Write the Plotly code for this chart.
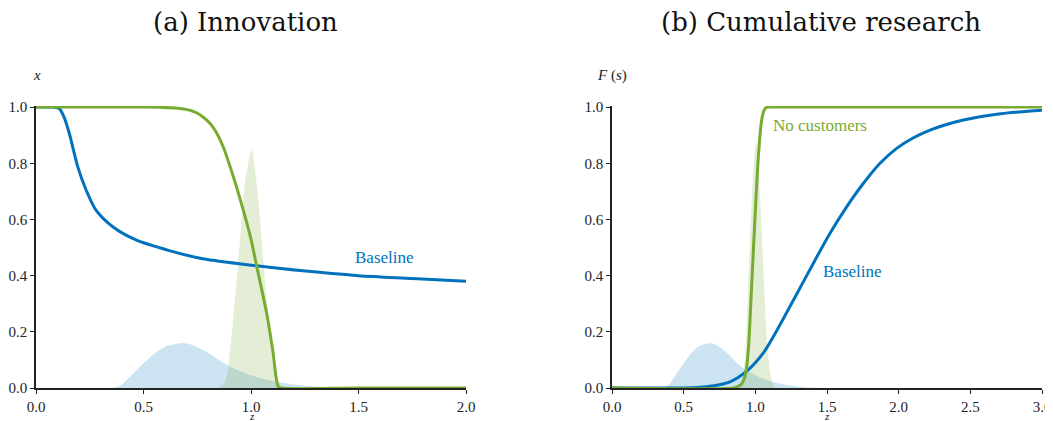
import plotly.graph_objects as go

BLUE = "#0072BD"
GREEN = "#77AC30"
BLUE_FILL = "rgba(0,114,189,0.2)"
GREEN_FILL = "rgba(119,172,48,0.2)"

# ---- Panel (a) Innovation ----
a_base_z = [0.0, 0.08, 0.108, 0.13, 0.155, 0.194, 0.233, 0.279, 0.357, 0.465, 0.62, 0.763, 0.837, 1.026, 1.228, 1.5, 1.75, 2.0]
a_base_x = [1.0, 1.0, 0.995, 0.965, 0.906, 0.788, 0.705, 0.633, 0.574, 0.527, 0.489, 0.462, 0.453, 0.435, 0.418, 0.400, 0.390, 0.380]

a_nocust_z = [0.0, 0.3, 0.5, 0.59, 0.65, 0.698, 0.74, 0.775, 0.81, 0.837, 0.87, 0.918, 0.964, 1.0, 1.026, 1.05, 1.073, 1.1, 1.127, 1.14, 1.5, 2.0]
a_nocust_x = [1.0, 1.0, 1.0, 0.999, 0.997, 0.992, 0.982, 0.966, 0.942, 0.912, 0.86, 0.752, 0.633, 0.53, 0.435, 0.35, 0.266, 0.14, 0.005, 0.0, 0.0, 0.0]

a_dens_base_z = [0.35, 0.4, 0.42, 0.45, 0.5, 0.55, 0.6, 0.67, 0.72, 0.794, 0.85, 0.918, 1.0, 1.1, 1.23, 1.35, 1.45]
a_dens_base_y = [0.0, 0.012, 0.028, 0.05, 0.088, 0.122, 0.146, 0.159, 0.155, 0.129, 0.1, 0.07, 0.045, 0.025, 0.01, 0.003, 0.0]

a_dens_nc_z = [0.845, 0.87, 0.887, 0.918, 0.949, 0.972, 1.003, 1.034, 1.057, 1.08, 1.104, 1.127, 1.15]
a_dens_nc_y = [0.0, 0.012, 0.04, 0.254, 0.527, 0.728, 0.847, 0.669, 0.455, 0.254, 0.076, 0.02, 0.0]

# ---- Panel (b) Cumulative research ----
b_base_z = [0.0, 0.5, 0.6, 0.7, 0.823, 0.94, 1.056, 1.172, 1.289, 1.405, 1.521, 1.637, 1.753, 1.87, 1.986, 2.1, 2.219, 2.335, 2.451, 2.567, 2.684, 2.84, 3.0]
b_base_F = [0.0, 0.0, 0.002, 0.007, 0.022, 0.06, 0.125, 0.225, 0.335, 0.444, 0.551, 0.645, 0.728, 0.80, 0.853, 0.89, 0.918, 0.938, 0.954, 0.966, 0.975, 0.983, 0.989]

b_nocust_z = [0.0, 0.85, 0.87, 0.9, 0.93, 0.951, 0.975, 0.998, 1.021, 1.044, 1.062, 1.079, 1.1, 2.0, 3.0]
b_nocust_F = [0.0, 0.0, 0.004, 0.012, 0.045, 0.135, 0.372, 0.61, 0.823, 0.954, 0.99, 0.999, 1.0, 1.0, 1.0]

b_dens_base_z = a_dens_base_z
b_dens_base_y = a_dens_base_y

b_dens_nc_z = [0.89, 0.91, 0.93, 0.955, 0.98, 1.005, 1.03, 1.055, 1.08, 1.105, 1.125, 1.14]
b_dens_nc_y = [0.0, 0.02, 0.12, 0.42, 0.72, 0.877, 0.72, 0.44, 0.18, 0.05, 0.01, 0.0]

xticks_a = [0.0, 0.5, 1.0, 1.5, 2.0]
xticks_b = [0.0, 0.5, 1.0, 1.5, 2.0, 2.5, 3.0]
yticks = [0.0, 0.2, 0.4, 0.6, 0.8, 1.0]

fig = go.Figure()

def fill(x, y, color, xa, ya):
    fig.add_trace(go.Scatter(x=x, y=y, mode="lines", fill="tozeroy", fillcolor=color,
                             line=dict(width=0, shape="spline", smoothing=0.7),
                             xaxis=xa, yaxis=ya, hoverinfo="skip", showlegend=False))

def line(x, y, color, xa, ya):
    fig.add_trace(go.Scatter(x=x, y=y, mode="lines",
                             line=dict(width=3, color=color, shape="spline", smoothing=0.8),
                             xaxis=xa, yaxis=ya, showlegend=False))

fill(a_dens_base_z, a_dens_base_y, BLUE_FILL, "x", "y")
fill(a_dens_nc_z, a_dens_nc_y, GREEN_FILL, "x", "y")
line(a_base_z, a_base_x, BLUE, "x", "y")
line(a_nocust_z, a_nocust_x, GREEN, "x", "y")

fill(b_dens_base_z, b_dens_base_y, BLUE_FILL, "x2", "y2")
fill(b_dens_nc_z, b_dens_nc_y, GREEN_FILL, "x2", "y2")
line(b_base_z, b_base_F, BLUE, "x2", "y2")
line(b_nocust_z, b_nocust_F, GREEN, "x2", "y2")

SERIF = "Liberation Serif"
tickfont = dict(family=SERIF, size=15, color="#222")
axis_common = dict(showgrid=False, zeroline=False, showline=True, linecolor="#222", linewidth=1.5,
                   ticks="outside", ticklen=4, tickcolor="#222", tickfont=tickfont, automargin=False)

# The page body has an 8px margin: design in screen pixels, then shift.
OFF = 8
W, H = 1053 - OFF, 421 - OFF
PL, PR, PT, PB = 36, 1042, 106, 388  # plot area in screen pixels
L, R, T, B = PL - OFF, W - (PR - OFF), PT - OFF, H - (PB - OFF)
pw = PR - PL
d1 = (466 - PL) / pw
d2 = (612 - PL) / pw

fig.update_layout(
    width=W, height=H,
    margin=dict(l=L, r=R, t=T, b=B, autoexpand=False),
    plot_bgcolor="white", paper_bgcolor="white",
    xaxis=dict(domain=[0, d1], range=[0, 2.0], tickvals=xticks_a, tickformat=".1f", anchor="y", **axis_common),
    yaxis=dict(domain=[0, 1], range=[0, 1.004], tickvals=yticks, tickformat=".1f", anchor="x", **axis_common),
    xaxis2=dict(domain=[d2, 1], range=[0, 3.0], tickvals=xticks_b, tickformat=".1f", anchor="y2", **axis_common),
    yaxis2=dict(domain=[0, 1], range=[0, 1.004], tickvals=yticks, tickformat=".1f", anchor="x2", **axis_common),
)

ph = PB - PT
def py(p):
    return (PB - p) / ph
def px(q):
    return (q - PL) / pw

ann = []
title_font = dict(family="DejaVu Serif", size=26, color="#111")
ann.append(dict(text="(a) Innovation", x=px(245), y=py(22), xref="paper", yref="paper",
                showarrow=False, font=title_font, xanchor="center", yanchor="middle"))
ann.append(dict(text="(b) Cumulative research", x=px(821), y=py(22), xref="paper", yref="paper",
                showarrow=False, font=title_font, xanchor="center", yanchor="middle"))
lab_font = dict(family=SERIF, size=15, color="#222")
ann.append(dict(text="<i>x</i>", x=px(37), y=py(75), xref="paper", yref="paper",
                showarrow=False, font=lab_font, xanchor="center", yanchor="middle"))
ann.append(dict(text="<i>F</i> (<i>s</i>)", x=px(612), y=py(75), xref="paper", yref="paper",
                showarrow=False, font=lab_font, xanchor="center", yanchor="middle"))
zfont = dict(family=SERIF, size=11, color="#222")
ann.append(dict(text="<i>z</i>", x=px(252), y=py(408), xref="paper", yref="paper",
                showarrow=False, font=zfont, xanchor="center", yanchor="top"))
ann.append(dict(text="<i>z</i>", x=px(827), y=py(408), xref="paper", yref="paper",
                showarrow=False, font=zfont, xanchor="center", yanchor="top"))

txt_font_g = dict(family=SERIF, size=17, color=GREEN)
txt_font_b = dict(family=SERIF, size=17, color=BLUE)
ann.append(dict(text="No customers", x=0.419, y=1.068, xref="x", yref="y", showarrow=False,
                font=txt_font_g, xanchor="center", yanchor="middle"))
ann.append(dict(text="Baseline", x=1.623, y=0.466, xref="x", yref="y", showarrow=False,
                font=txt_font_b, xanchor="center", yanchor="middle"))
ann.append(dict(text="No customers", x=1.451, y=0.936, xref="x2", yref="y2", showarrow=False,
                font=txt_font_g, xanchor="center", yanchor="middle"))
ann.append(dict(text="Baseline", x=1.679, y=0.416, xref="x2", yref="y2", showarrow=False,
                font=txt_font_b, xanchor="center", yanchor="middle"))

fig.update_layout(annotations=ann)

fig.write_html("out.html")
